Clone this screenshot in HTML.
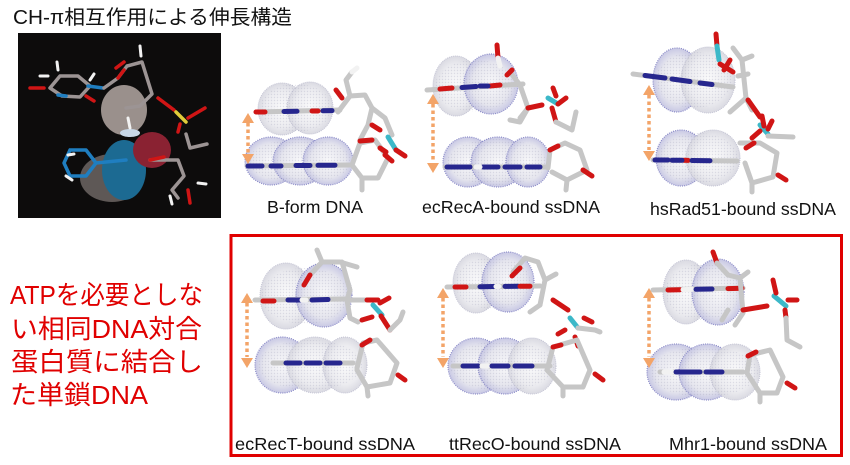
<!DOCTYPE html>
<html><head><meta charset="utf-8">
<style>
html,body{margin:0;padding:0;background:#fff;}
svg{display:block;}
.c{fill:url(#cg);stroke:#c4c4d4;stroke-width:1;stroke-dasharray:1 1;}
.cb{fill:url(#cb);stroke:#8c8cc8;stroke-width:1.2;stroke-dasharray:1 1.2;}
.d{fill:url(#dp);stroke:none;opacity:.22;}
.g,.r,.cy,.w,.b,.bl,.k,.y{fill:none;stroke-linecap:round;stroke-linejoin:round;stroke-width:5;}
.g{stroke:#c6c6c6;}
.r{stroke:#d01515;}
.cy{stroke:#3cb8c8;}
.w{stroke:#f2f2f2;}
.b{stroke:#26268e;}
.bl{stroke:#1f7ec0;stroke-width:3.5;}
.k{stroke:#9c9494;stroke-width:3.5;}
.y{stroke:#e0cc3a;stroke-width:3.5;}
.ar{stroke:#f3a468;stroke-width:3.5;stroke-dasharray:3.5 3;fill:none;}
.ah{fill:#f3a468;}
.lab{font-family:"Liberation Sans",Arial,sans-serif;font-size:17.6px;fill:#111;}
.jp{font-family:"Liberation Sans","Noto Sans CJK JP",sans-serif;}
</style></head>
<body>
<svg width="850" height="465" viewBox="0 0 850 465" xmlns="http://www.w3.org/2000/svg">
<defs>
<radialGradient id="cg" cx="0.5" cy="0.5" r="0.5">
<stop offset="0" stop-color="#fafafb"/>
<stop offset="0.7" stop-color="#ececf0"/>
<stop offset="1" stop-color="#dadae2"/>
</radialGradient>
<radialGradient id="cb" cx="0.5" cy="0.5" r="0.5">
<stop offset="0" stop-color="#f8f8fa"/>
<stop offset="0.7" stop-color="#e6e6ee"/>
<stop offset="1" stop-color="#c8c8e4"/>
</radialGradient>
<pattern id="dp" width="3" height="3" patternUnits="userSpaceOnUse">
<circle cx="1.5" cy="1.5" r="0.7" fill="#8a8aa8"/>
</pattern>
</defs>

<!-- Title -->
<text class="jp" x="13" y="24" font-size="20" fill="#111" textLength="279" lengthAdjust="spacingAndGlyphs">CH-π相互作用による伸長構造</text>

<!-- Black image -->
<rect x="18" y="33" width="203" height="185" fill="#0d0c0c"/>
<ellipse cx="112" cy="178" rx="32" ry="24" fill="#5e5856"/>
<ellipse cx="124" cy="170" rx="22" ry="30" fill="#1c6a92"/>
<ellipse cx="152" cy="150" rx="19" ry="18" fill="#8a2232"/>
<ellipse cx="124" cy="110" rx="23" ry="25" fill="#9a908c"/>
<ellipse cx="130" cy="133" rx="10" ry="4" fill="#c8d8e8"/>
<polyline class="k" points="50,88 60,76 78,76 90,86 80,97 62,96 50,88"/>
<polyline class="bl" points="58,95 66,96"/>
<polyline class="bl" points="88,86 103,88"/>
<polyline class="r" style="stroke-width:3.5" points="30,88 44,88"/>
<polyline class="r" style="stroke-width:3.5" points="86,96 94,101"/>
<polyline class="w" style="stroke-width:3" points="40,76 48,76"/>
<polyline class="w" style="stroke-width:3" points="57,62 58,70"/>
<polyline class="w" style="stroke-width:3" points="90,80 94,74"/>
<polyline class="k" points="104,88 118,78 127,66 142,62 152,94 140,106 126,108"/>
<polyline class="r" style="stroke-width:3.5" points="118,78 124,70"/>
<polyline class="r" style="stroke-width:3.5" points="116,68 124,62"/>
<polyline class="w" style="stroke-width:3" points="140,46 141,56"/>
<polyline class="r" style="stroke-width:3.5" points="158,98 174,110"/>
<polyline class="y" points="176,112 186,122"/>
<polyline class="r" style="stroke-width:3.5" points="188,118 205,108"/>
<polyline class="r" style="stroke-width:3.5" points="180,124 178,132"/>
<polyline class="k" points="186,134 190,148 207,144"/>
<polyline class="w" style="stroke-width:3" points="128,118 130,128"/>
<polyline class="bl" points="70,150 86,150 96,163 86,176 70,176 64,163 70,150"/>
<polyline class="bl" points="96,163 126,160"/>
<polyline class="w" style="stroke-width:3" points="68,155 74,154"/>
<polyline class="w" style="stroke-width:3" points="66,176 72,180"/>
<polyline class="k" points="150,160 178,160 184,176 172,190 178,198"/>
<polyline class="r" style="stroke-width:3.5" points="150,160 164,157"/>
<polyline class="r" style="stroke-width:3.5" points="188,190 190,203"/>
<polyline class="w" style="stroke-width:3" points="170,196 172,204"/>
<polyline class="w" style="stroke-width:3" points="198,183 206,184"/>

<!-- Panel 1 : B-form -->
<ellipse class="c" cx="282" cy="109" rx="24" ry="26"/>
<ellipse class="c" cx="310" cy="108" rx="23" ry="26"/>
<ellipse class="cb" cx="271" cy="161" rx="26" ry="24"/>
<ellipse class="cb" cx="300" cy="161" rx="27" ry="24"/>
<ellipse class="cb" cx="328" cy="161" rx="25" ry="24"/>
<ellipse class="d" cx="296" cy="108" rx="36" ry="24"/>
<ellipse class="d" cx="300" cy="161" rx="52" ry="22"/>
<polyline class="g" points="256,112 340,110"/>
<polyline class="r" points="256,112 265,112"/>
<polyline class="b" points="284,111.5 297,111.3"/>
<polyline class="r" points="312,111 318,111"/>
<polyline class="b" points="323,110.8 332,110.6"/>
<polyline class="g" points="247,166 350,165"/>
<polyline class="b" points="248,166 262,166"/>
<polyline class="b" points="271,166 281,166"/>
<polyline class="b" points="296,165.5 310,165.5"/>
<polyline class="b" points="318,165.3 335,165.2"/>
<polyline class="g" points="338,112 350,96 346,80 352,72"/>
<polyline class="g" points="350,96 365,95 372,108 368,125 360,140"/>
<polyline class="g" points="372,108 385,118 392,135"/>
<polyline class="g" points="352,165 360,143 375,140 388,158 378,178 362,178 352,165"/>
<polyline class="g" points="362,178 362,190"/>
<polyline class="r" points="336,90 342,98"/>
<polyline class="r" points="360,141 372,140"/>
<polyline class="r" points="372,125 380,130"/>
<polyline class="r" points="385,155 392,161"/>
<polyline class="cy" points="388,137 396,150"/>
<polyline class="r" points="396,150 405,156"/>
<polyline class="r" points="380,148 386,152"/>
<polyline class="w" points="352,72 357,68"/>
<polyline class="ar" points="248,123 248,153"/>
<polygon class="ah" points="248,113 242,123 254,123"/>
<polygon class="ah" points="248,164 242,154 254,154"/>
<text class="lab" x="267" y="213" textLength="96" lengthAdjust="spacingAndGlyphs">B-form DNA</text>

<!-- Panel 2 : ecRecA -->
<ellipse class="c" cx="456" cy="86" rx="23" ry="30"/>
<ellipse class="cb" cx="491" cy="84" rx="27" ry="30"/>
<ellipse class="d" cx="475" cy="86" rx="40" ry="26"/>
<ellipse class="cb" cx="468" cy="162" rx="25" ry="25"/>
<ellipse class="cb" cx="498" cy="162" rx="27" ry="25"/>
<ellipse class="cb" cx="528" cy="162" rx="22" ry="25"/>
<ellipse class="d" cx="497" cy="162" rx="50" ry="23"/>
<polyline class="g" points="427,90 523,84"/>
<polyline class="r" points="440,89 452,88"/>
<polyline class="b" points="462,87.5 476,86.5"/>
<polyline class="r" points="490,86 500,85"/>
<polyline class="b" points="480,86 488,86"/>
<polyline class="g" points="445,167 547,167"/>
<polyline class="b" points="447,167 470,167"/>
<polyline class="b" points="483,167 498,167"/>
<polyline class="b" points="505,167 520,167"/>
<polyline class="b" points="527,167 540,167"/>
<polyline class="w" points="476,167 480,167"/>
<polyline class="r" points="497,45 498,58"/>
<polyline class="w" points="498,58 500,66"/>
<polyline class="g" points="510,72 520,85 528,108 520,118"/>
<polyline class="g" points="528,108 520,122 510,120"/>
<polyline class="r" points="528,108 542,105"/>
<polyline class="cy" points="548,98 558,104"/>
<polyline class="r" points="553,88 556,96"/>
<polyline class="r" points="558,104 566,98"/>
<polyline class="r" points="552,108 556,122"/>
<polyline class="g" points="556,122 572,130 576,112"/>
<polyline class="g" points="548,168 550,150 565,143 580,150 587,170 567,180 552,172"/>
<polyline class="g" points="567,180 566,190"/>
<polyline class="r" points="550,150 558,146"/>
<polyline class="r" points="583,170 592,176"/>
<polyline class="r" points="507,75 512,70"/>
<polyline class="ar" points="433,104 433,162"/>
<polygon class="ah" points="433,94 427,104 439,104"/>
<polygon class="ah" points="433,173 427,163 439,163"/>
<text class="lab" x="422" y="213" textLength="178" lengthAdjust="spacingAndGlyphs">ecRecA-bound ssDNA</text>

<!-- Panel 3 : hsRad51 -->
<ellipse class="cb" cx="677" cy="80" rx="24" ry="32"/>
<ellipse class="c" cx="708" cy="80" rx="27" ry="33"/>
<ellipse class="d" cx="694" cy="80" rx="38" ry="28"/>
<ellipse class="cb" cx="681" cy="158" rx="25" ry="28"/>
<ellipse class="c" cx="713" cy="158" rx="27" ry="28"/>
<ellipse class="d" cx="698" cy="158" rx="40" ry="25"/>
<polyline class="g" points="633,74 733,87"/>
<polyline class="b" points="645,75.5 665,78"/>
<polyline class="b" points="672,79 690,81.5"/>
<polyline class="b" points="700,83 712,84.5"/>
<polyline class="g" points="653,160 737,161"/>
<polyline class="b" points="655,160 668,160"/>
<polyline class="r" points="684,160.3 688,160.4"/>
<polyline class="b" points="672,160.2 682,160.3"/>
<polyline class="b" points="692,160.5 710,160.7"/>
<polyline class="r" points="716,34 717,46"/>
<polyline class="cy" points="717,46 719,60"/>
<polyline class="r" points="720,64 733,72"/>
<polyline class="r" points="724,70 730,60"/>
<polyline class="g" points="733,48 742,60 746,98 730,112"/>
<polyline class="g" points="742,60 752,56"/>
<polyline class="g" points="738,76 748,74"/>
<polyline class="g" points="746,98 752,110"/>
<polyline class="r" points="748,100 760,117"/>
<polyline class="cy" points="760,125 768,134"/>
<polyline class="r" points="762,116 764,126"/>
<polyline class="r" points="752,138 760,131"/>
<polyline class="r" points="772,121 768,129"/>
<polyline class="g" points="768,136 793,137"/>
<polyline class="g" points="740,143 760,143 777,153 773,177 752,183 745,163"/>
<polyline class="g" points="752,183 752,192"/>
<polyline class="r" points="746,148 754,143"/>
<polyline class="r" points="778,175 786,180"/>
<polyline class="ar" points="649,95 649,150"/>
<polygon class="ah" points="649,85 643,95 655,95"/>
<polygon class="ah" points="649,161 643,151 655,151"/>
<text class="lab" x="650" y="215" textLength="186" lengthAdjust="spacingAndGlyphs">hsRad51-bound ssDNA</text>

<!-- Red box -->
<rect x="231" y="235.5" width="610.5" height="220" fill="none" stroke="#e00000" stroke-width="3"/>

<!-- Panel 4 : ecRecT -->
<ellipse class="c" cx="286" cy="296" rx="26" ry="33"/>
<ellipse class="cb" cx="324" cy="295" rx="28" ry="32"/>
<ellipse class="d" cx="305" cy="296" rx="44" ry="28"/>
<ellipse class="cb" cx="282" cy="365" rx="27" ry="28"/>
<ellipse class="c" cx="315" cy="365" rx="28" ry="28"/>
<ellipse class="c" cx="345" cy="365" rx="22" ry="28"/>
<ellipse class="d" cx="310" cy="365" rx="52" ry="25"/>
<polyline class="g" points="255,300 347,299"/>
<polyline class="r" points="263,301 274,301"/>
<polyline class="b" points="288,300 300,300"/>
<polyline class="w" points="302,300 306,300"/>
<polyline class="b" points="312,300 328,299.5"/>
<polyline class="g" points="273,363 353,363"/>
<polyline class="b" points="286,363 300,363"/>
<polyline class="b" points="306,363 320,363"/>
<polyline class="b" points="326,363 340,363"/>
<polyline class="g" points="317,250 322,262 340,262 357,267"/>
<polyline class="g" points="322,262 310,275"/>
<polyline class="r" points="304,285 310,275"/>
<polyline class="g" points="342,262 350,290 347,300 367,300"/>
<polyline class="g" points="347,300 350,318 358,322"/>
<polyline class="r" points="367,300 378,300"/>
<polyline class="cy" points="373,305 382,315"/>
<polyline class="r" points="380,303 389,298"/>
<polyline class="r" points="372,317 362,320"/>
<polyline class="r" points="381,316 390,330"/>
<polyline class="g" points="390,330 400,320 403,312"/>
<polyline class="g" points="357,368 363,343 377,340 397,363 390,383 367,387 357,370"/>
<polyline class="g" points="367,387 368,396"/>
<polyline class="r" points="362,345 370,340"/>
<polyline class="r" points="398,375 405,380"/>
<polyline class="ar" points="247,303 247,357"/>
<polygon class="ah" points="247,293 241,303 253,303"/>
<polygon class="ah" points="247,368 241,358 253,358"/>
<text class="lab" x="235" y="450" textLength="180" lengthAdjust="spacingAndGlyphs">ecRecT-bound ssDNA</text>

<!-- Panel 5 : ttRecO -->
<ellipse class="c" cx="476" cy="283" rx="23" ry="30"/>
<ellipse class="cb" cx="508" cy="282" rx="26" ry="30"/>
<ellipse class="d" cx="493" cy="283" rx="38" ry="26"/>
<ellipse class="cb" cx="476" cy="366" rx="28" ry="28"/>
<ellipse class="cb" cx="505" cy="366" rx="27" ry="28"/>
<ellipse class="c" cx="532" cy="366" rx="24" ry="28"/>
<ellipse class="d" cx="502" cy="366" rx="52" ry="25"/>
<polyline class="g" points="447,287 540,286"/>
<polyline class="r" points="455,287 466,287"/>
<polyline class="b" points="480,286.7 494,286.5"/>
<polyline class="w" points="496,286.5 499,286.5"/>
<polyline class="b" points="505,286.4 518,286.3"/>
<polyline class="r" points="520,286.3 530,286.2"/>
<polyline class="g" points="453,366 550,366"/>
<polyline class="b" points="463,366 478,366"/>
<polyline class="w" points="482,366 488,366"/>
<polyline class="b" points="492,366 508,366"/>
<polyline class="b" points="515,366 532,366"/>
<polyline class="g" points="513,272 525,258 538,262 545,280 540,305"/>
<polyline class="r" points="512,276 520,268"/>
<polyline class="g" points="545,280 556,274"/>
<polyline class="g" points="540,305 530,312"/>
<polyline class="r" points="553,300 568,310"/>
<polyline class="cy" points="570,318 578,328"/>
<polyline class="r" points="584,318 592,322"/>
<polyline class="r" points="565,330 558,334"/>
<polyline class="r" points="575,337 578,346"/>
<polyline class="g" points="578,328 595,330 600,332"/>
<polyline class="g" points="547,370 553,347 577,340 590,370 583,387 563,387 547,370"/>
<polyline class="g" points="563,387 563,396"/>
<polyline class="r" points="553,347 561,345"/>
<polyline class="r" points="595,374 603,380"/>
<polyline class="ar" points="443,298 443,357"/>
<polygon class="ah" points="443,288 437,298 449,298"/>
<polygon class="ah" points="443,368 437,358 449,358"/>
<text class="lab" x="449" y="450" textLength="172" lengthAdjust="spacingAndGlyphs">ttRecO-bound ssDNA</text>

<!-- Panel 6 : Mhr1 -->
<ellipse class="c" cx="686" cy="292" rx="23" ry="32"/>
<ellipse class="cb" cx="718" cy="292" rx="26" ry="33"/>
<ellipse class="d" cx="703" cy="292" rx="38" ry="28"/>
<ellipse class="cb" cx="676" cy="372" rx="29" ry="28"/>
<ellipse class="cb" cx="707" cy="372" rx="28" ry="28"/>
<ellipse class="c" cx="735" cy="372" rx="25" ry="28"/>
<ellipse class="d" cx="704" cy="372" rx="54" ry="25"/>
<polyline class="g" points="653,290 743,288"/>
<polyline class="r" points="668,290 680,289.7"/>
<polyline class="w" points="683,289.6 692,289.4"/>
<polyline class="b" points="696,289.3 712,289"/>
<polyline class="r" points="728,288.6 742,288.3"/>
<polyline class="g" points="660,372 743,372"/>
<polyline class="w" points="664,372 672,372"/>
<polyline class="b" points="676,372 700,372"/>
<polyline class="b" points="706,372 722,372"/>
<polyline class="r" points="713,252 717,263"/>
<polyline class="g" points="717,263 728,275 740,278 743,313 735,325"/>
<polyline class="g" points="740,278 748,272"/>
<polyline class="g" points="728,310 722,320"/>
<polyline class="r" points="743,310 767,306"/>
<polyline class="cy" points="774,296 786,306"/>
<polyline class="r" points="773,280 776,293"/>
<polyline class="r" points="788,300 797,300"/>
<polyline class="r" points="785,310 786,318"/>
<polyline class="g" points="786,318 787,340 800,347"/>
<polyline class="g" points="747,373 750,355 770,350 783,377 777,393 760,393 747,373"/>
<polyline class="g" points="760,393 760,402"/>
<polyline class="r" points="748,356 756,352"/>
<polyline class="r" points="787,383 795,388"/>
<polyline class="ar" points="649,298 649,357"/>
<polygon class="ah" points="649,288 643,298 655,298"/>
<polygon class="ah" points="649,368 643,358 655,358"/>
<text class="lab" x="669" y="450" textLength="158" lengthAdjust="spacingAndGlyphs">Mhr1-bound ssDNA</text>

<!-- Red Japanese text -->
<g class="jp" font-size="26" fill="#e00000">
<text x="10" y="304" textLength="193" lengthAdjust="spacingAndGlyphs">ATPを必要としな</text>
<text x="11" y="338" textLength="191" lengthAdjust="spacingAndGlyphs">い相同DNA対合</text>
<text x="11" y="371" textLength="192" lengthAdjust="spacingAndGlyphs">蛋白質に結合し</text>
<text x="10" y="404" textLength="138" lengthAdjust="spacingAndGlyphs">た単鎖DNA</text>
</g>
</svg>
</body></html>
